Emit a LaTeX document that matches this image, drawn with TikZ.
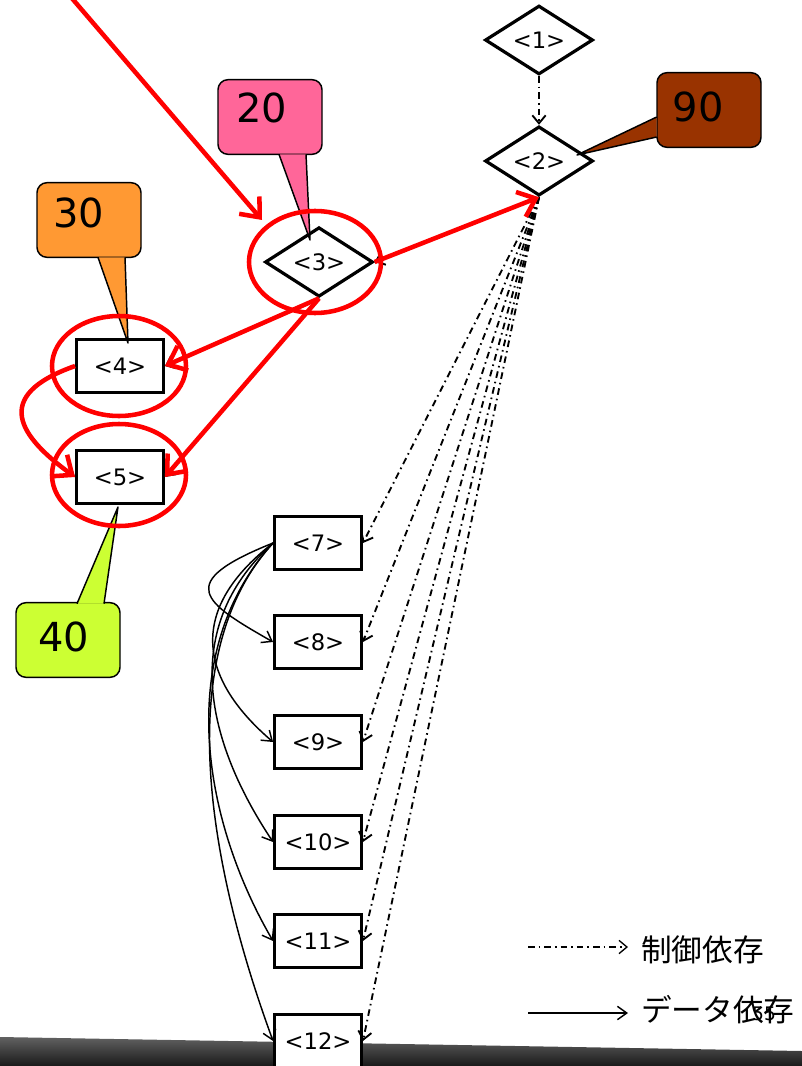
\documentclass[tikz,border=0pt]{standalone}
\usepackage{fontspec}
\setmainfont{DejaVu Sans}
\newfontfamily\jpfont{Noto Sans CJK JP}
\usepackage{tikz}
\usetikzlibrary{shapes.geometric, arrows, arrows.meta}
\usetikzlibrary{calc,positioning}

\definecolor{cpink}{HTML}{FF6699}
\definecolor{corange}{HTML}{FF9933}
\definecolor{clime}{HTML}{CCFF33}
\definecolor{cbrown}{HTML}{993300}

\tikzset{
  cond/.style={diamond, draw, line width=2.4pt, fill=white, inner sep=0pt,
    minimum width=81pt, minimum height=47pt, font=\fontsize{17}{20}\selectfont},
  stmt/.style={rectangle, draw, line width=2.4pt, fill=white, inner sep=0pt,
    minimum width=65pt, minimum height=40pt, font=\fontsize{17}{20}\selectfont},
  ctrl/.style={line width=1.4pt, dash pattern=on 5pt off 3pt on 1.2pt off 3pt,
    -{Straight Barb[length=6pt,width=10pt]}},
  data/.style={line width=1.1pt, -{Straight Barb[length=7pt,width=10pt]}},
  hilite/.style={red, line width=3.4pt, -{Straight Barb[length=12pt,width=20pt]}},
  ring/.style={red, line width=3.4pt},
  callbox/.style={draw, line width=1.1pt, rounded corners=7.5pt, inner sep=0pt,
    minimum width=78pt, minimum height=56pt},
  calledge/.style={line width=1.1pt, line join=round},
  calltext/.style={inner sep=0.75pt, font=\fontsize{30}{32}\selectfont},
  legtext/.style={inner sep=0.75pt, anchor=west, font=\jpfont\fontsize{23}{26}\selectfont}
}

\begin{document}
\begin{tikzpicture}[x=0.75pt,y=0.75pt,yscale=-1,xscale=1]
  \useasboundingbox (0,0) rectangle (802,1066);

  % bottom bar
  \shade[top color=black!62, bottom color=black!90] (0,1037) -- (802,1051) -- (802,1066) -- (0,1066) -- cycle;

  % conditions
  \node[cond] (n1) at (539,40) {<1>};
  \node[cond] (n2) at (539,161) {<2>};
  \node[cond] (n3) at (319,262) {<3>};

  % statements
  \node[stmt] (n4) at (120,366) {<4>};
  \node[stmt] (n5) at (120,477) {<5>};
  \foreach \k/\y in {7/543,8/642,9/742,10/842,11/941,12/1041}
    \node[stmt] (n\k) at (318,\y) {<\k>};

  % control dependences
  \draw[ctrl] (n1.south) -- (n2.north);
  \draw[ctrl] (n2.south) -- (n3.east);
  \draw[ctrl] (n3.south) -- (n4.east);
  \draw[ctrl] (n3.south) -- (n5.east);
  \foreach \k in {7,...,12}
    \draw[ctrl] (n2.south) -- (n\k.east);

  % data dependences
  \draw[data] (n4.west) .. controls +(-85,30) and +(-55,-40) .. (n5.west);
  \draw[data] (n7.west) .. controls +(-100,40) and +(-70,-40) .. (n8.west);
  \draw[data] (n7.west) .. controls +(-90,70) and +(-70,-60) .. (n9.west);
  \draw[data] (n7.west) .. controls +(-100,90) and +(-60,-90) .. (n10.west);
  \draw[data] (n7.west) .. controls +(-100,110) and +(-70,-120) .. (n11.west);
  \draw[data] (n7.west) .. controls +(-110,120) and +(-55,-150) .. (n12.west);

  % callouts
  \node[callbox, fill=cpink] (b20) at (270,117) {};
  \fill[cpink] (279,154.3) -- (310,240) -- (306,154.3) -- cycle;
  \draw[calledge] (279,154.3) -- (310,240) -- (306,154.3);
  \node[calltext] (t20) at (262,108) {20};

  \node[callbox, fill=corange] (b30) at (89,220) {};
  \fill[corange] (98,257.3) -- (128,343) -- (125,257.3) -- cycle;
  \draw[calledge] (98,257.3) -- (128,343) -- (125,257.3);
  \node[calltext] (t30) at (79,213) {30};

  \node[callbox, fill=clime] (b40) at (68,640) {};
  \fill[clime] (77,603.7) -- (118,507) -- (104,603.7) -- cycle;
  \draw[calledge] (77,603.7) -- (118,507) -- (104,603.7);
  \node[calltext] (t40) at (64,637) {40};

  \node[callbox, fill=cbrown] (b90) at (709,110) {};
  \fill[cbrown] (656.7,117) -- (577,155) -- (656.7,137) -- cycle;
  \draw[calledge] (656.7,117) -- (577,155) -- (656.7,137);
  \node[calltext] (t90) at (698,107) {90};

  % slicing criterion
  \draw[ring] (315,262) ellipse (66 and 51);
  \draw[ring] (119,366) ellipse (67 and 50);
  \draw[ring] (119,475) ellipse (67 and 51);

  \coordinate (redstart) at (70,-4);
  \coordinate (redend) at (262,220);
  \draw[hilite] (redstart) -- (redend);
  \draw[hilite] (n3.east) -- (n2.south);
  \draw[hilite] (n3.south) -- (n4.east);
  \draw[hilite] (n3.south) -- (n5.east);
  \draw[hilite] (n4.west) .. controls +(-85,30) and +(-55,-40) .. (n5.west);

  % legend
  \coordinate (lgc0) at (528,947);
  \coordinate (lgc1) at (628,947);
  \draw[ctrl, line width=1pt] (lgc0) -- (lgc1);
  \node[legtext] (lgc) at (640,950) {制御依存};
  \coordinate (lgd0) at (528,1013);
  \coordinate (lgd1) at (628,1013);
  \draw[data] (lgd0) -- (lgd1);
  \node[legtext] (lgd) at (640,1010) {データ依存};
  \node[inner sep=0pt, font=\fontsize{14}{16}\selectfont] (pgno) at (764,1014) {55};

\end{tikzpicture}
\end{document}
